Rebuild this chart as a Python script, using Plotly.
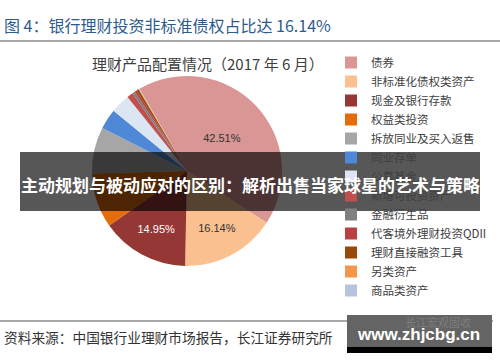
import plotly.graph_objects as go

W, H = 500, 362

categories = ["债券", "非标准化债权类资产", "现金及银行存款", "权益类投资", "拆放同业及买入返售",
              "同业存单", "公募基金", "新增可投资资产", "金融衍生品", "代客境外理财投资QDII",
              "理财直接融资工具", "另类资产", "商品类资产"]
values = [42.51, 16.14, 14.95, 9.31, 7.90, 3.45, 3.30, 1.05, 0.45, 0.35, 0.40, 0.12, 0.07]
colors = ["#D99694", "#FAC090", "#953735", "#E46C0A", "#A6A6A6", "#4F88D6", "#DCE6F2",
          "#C0504D", "#7F7F7F", "#B94040", "#984807", "#F79646", "#B7C4DE"]
label_text = [f"{v:.2f}%" if v > 10 else "" for v in values]
label_colors = ["#333333", "#333333", "#FFFFFF"] + ["#333333"] * 10

title_text = "图 4：银行理财投资非标准债权占比达 16.14%"
subtitle_text = "理财产品配置情况（2017 年 6 月）"
source_text = "资料来源：中国银行业理财市场报告，长江证券研究所"
banner_text = "主动规划与被动应对的区别：解析出售当家球星的艺术与策略"
wm_text = "www.zhjcbg.cn"
wm_sub = "长江宏观固收"

CJK = "Noto Sans CJK SC, Noto Sans, sans-serif"


def px(x):
    return x / W


def py(y):
    return 1 - y / H


fig = go.Figure(go.Pie(
    labels=categories, values=values, sort=False, direction="clockwise", rotation=-30,
    marker=dict(colors=colors, line=dict(width=0)),
    text=label_text, textinfo="text", textposition="inside",
    insidetextfont=dict(family="Liberation Sans, Arial", size=11, color=label_colors),
    domain=dict(x=[px(92), px(282)], y=[py(266), py(76)]),
    hoverinfo="label+percent",
))

fig.update_layout(
    width=W, height=H, margin=dict(l=0, r=0, t=0, b=0),
    paper_bgcolor="white", plot_bgcolor="white",
    legend=dict(x=px(331), y=py(48), xanchor="left", yanchor="top",
                font=dict(family=CJK, size=11.5, color="#404040"),
                bgcolor="rgba(0,0,0,0)", traceorder="normal"),
    shapes=[
        dict(type="line", xref="paper", yref="paper", x0=0, x1=1, y0=py(41), y1=py(41),
             line=dict(color="#8C8C8C", width=1.5)),
        dict(type="line", xref="paper", yref="paper", x0=0, x1=px(493), y0=py(321), y1=py(321),
             line=dict(color="#8C8C8C", width=1.5)),
        dict(type="rect", xref="paper", yref="paper", x0=px(20), x1=px(480), y0=py(211), y1=py(152),
             fillcolor="rgba(0,0,0,0.66)", line=dict(width=0), layer="above"),
        dict(type="rect", xref="paper", yref="paper", x0=px(347), x1=px(492), y0=py(347), y1=py(315),
             fillcolor="#646464", line=dict(width=0), layer="above"),
        dict(type="rect", xref="paper", yref="paper", x0=px(347), x1=px(492), y0=py(353), y1=py(347),
             fillcolor="#000000", line=dict(width=0), layer="above"),
    ],
    annotations=[
        dict(text=title_text, x=px(2), y=py(25), xref="paper", yref="paper", xanchor="left",
             yanchor="middle", showarrow=False, font=dict(family=CJK, size=16, color="#2E5B8C")),
        dict(text=subtitle_text, x=px(90), y=py(63), xref="paper", yref="paper", xanchor="left",
             yanchor="middle", showarrow=False, font=dict(family=CJK, size=15, color="#404040")),
        dict(text=source_text, x=px(2), y=py(337), xref="paper", yref="paper", xanchor="left",
             yanchor="middle", showarrow=False, font=dict(family=CJK, size=13.7, color="#333333")),
        dict(text=banner_text, x=px(250), y=py(184), xref="paper", yref="paper", xanchor="center",
             yanchor="middle", showarrow=False,
             font=dict(family=CJK, size=17, color="#FFFFFF", weight="bold")),
        dict(text=wm_sub, x=px(438), y=py(322), xref="paper", yref="paper", xanchor="center",
             yanchor="middle", showarrow=False, font=dict(family=CJK, size=11, color="#7E7E7E")),
        dict(text=wm_text, x=px(418), y=py(334), xref="paper", yref="paper", xanchor="center",
             yanchor="middle", showarrow=False,
             font=dict(family="Liberation Sans, Arial", size=17, color="#FFFFFF", weight="bold")),
    ],
)

fig.write_html("out.html", config={"displayModeBar": False},
               post_script="document.body.style.margin='0';")
